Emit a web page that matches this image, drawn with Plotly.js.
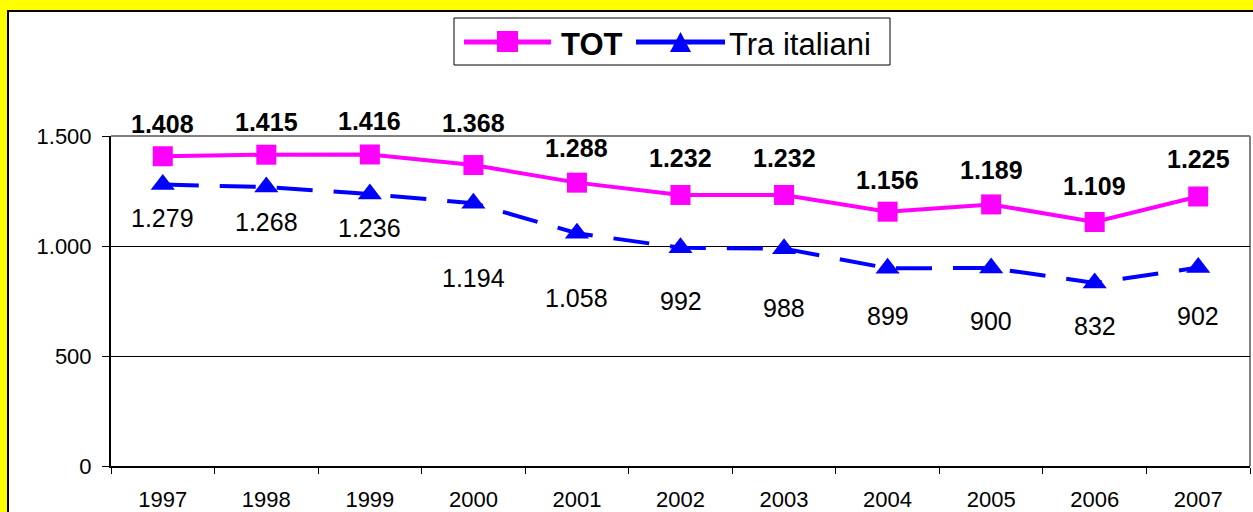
<!DOCTYPE html>
<html>
<head>
<meta charset="utf-8">
<script src="https://cdn.plot.ly/plotly-3.0.1.min.js"></script>
<style>
  html, body { margin: 0; padding: 0; background: #FFFF00; width: 1253px; height: 512px; overflow: hidden; }
  #chart { position: absolute; left: 7px; top: 10px; width: 1246px; height: 502px; background: #fff;
           border-left: 2px solid #000; border-top: 2px solid #000; box-sizing: border-box; }
</style>
</head>
<body>
<div id="chart"></div>
<script>
const years = ['1997','1998','1999','2000','2001','2002','2003','2004','2005','2006','2007'];
const totValues = [1408, 1415, 1416, 1368, 1288, 1232, 1232, 1156, 1189, 1109, 1225];
const traValues = [1279, 1268, 1236, 1194, 1058, 992, 988, 899, 900, 832, 902];
const totName = 'TOT';
const traName = 'Tra italiani';
const yTicks = [0, 500, 1000, 1500];

// label placement offsets (pixels), as in the reference
const totLabelShift = [32, 33, 33, 42, 35, 37, 37, 32, 34, 36, 38];
const traLabelShift = [-33, -35, -34, -75, -65, -53, -59, -48, -53, -43, -48];

function fmt(v) {
  return String(v).replace(/\B(?=(\d{3})+(?!\d))/g, '.');
}

const FONT = 'Liberation Sans, Arial, sans-serif';
const MAGENTA = '#FF00FF';
const BLUE = '#0000FF';

// plot geometry (div pixels)
const W = 1244, H = 500;
const M = { l: 102, r: 3, t: 124, b: 46 };
const PW = W - M.l - M.r, PH = H - M.t - M.b;
// convert page pixel position to paper coordinates (for the legend box)
const px = x => (x - 9 - M.l) / PW;
const py = y => 1 - ((y - 12) - M.t) / PH;

const traces = [
  {
    x: years, y: totValues, name: totName, type: 'scatter', mode: 'lines+markers',
    line: { color: MAGENTA, width: 4 },
    marker: { symbol: 'square', size: 20, color: MAGENTA },
    hoverinfo: 'skip', showlegend: false
  },
  {
    x: years, y: traValues, name: traName, type: 'scatter', mode: 'lines+markers',
    line: { color: BLUE, width: 4, dash: '36px,21px' },
    marker: { symbol: 'triangle-up', size: 21, color: BLUE },
    hoverinfo: 'skip', showlegend: false
  }
];

const annotations = [];
years.forEach((yr, i) => {
  annotations.push({
    x: i, y: totValues[i], xref: 'x', yref: 'y', text: '<b>' + fmt(totValues[i]) + '</b>',
    showarrow: false, yshift: totLabelShift[i], font: { family: FONT, size: 25, color: '#000' }
  });
  annotations.push({
    x: i, y: traValues[i], xref: 'x', yref: 'y', text: fmt(traValues[i]),
    showarrow: false, yshift: traLabelShift[i], font: { family: FONT, size: 25, color: '#000' }
  });
});

// legend (drawn manually to match the long swatches of the reference)
annotations.push({
  x: px(559), y: py(45), xref: 'paper', yref: 'paper', xanchor: 'left', yanchor: 'middle',
  text: '<b>' + totName + '</b>', showarrow: false, font: { family: FONT, size: 31, color: '#000' }
});
annotations.push({
  x: px(727), y: py(45), xref: 'paper', yref: 'paper', xanchor: 'left', yanchor: 'middle',
  text: traName, showarrow: false, font: { family: FONT, size: 31, color: '#000' }
});

const shapes = [
  { type: 'line', xref: 'paper', yref: 'paper', x0: 0, x1: 1, y0: 1, y1: 1, line: { color: '#808080', width: 2 }, layer: 'between' },
  { type: 'line', xref: 'paper', yref: 'paper', x0: 1, x1: 1, y0: 0, y1: 1, line: { color: '#808080', width: 2 }, layer: 'between' },
  // legend box
  { type: 'rect', xref: 'paper', yref: 'paper', x0: px(454), x1: px(890), y0: py(65), y1: py(18),
    line: { color: '#000', width: 1 }, fillcolor: '#fff', layer: 'above' },
  // TOT swatch
  { type: 'line', xref: 'paper', yref: 'paper', x0: px(464), x1: px(551), y0: py(42), y1: py(42),
    line: { color: MAGENTA, width: 5 }, layer: 'above' },
  { type: 'rect', xref: 'paper', yref: 'paper', x0: px(497), x1: px(518), y0: py(52), y1: py(31),
    line: { width: 0 }, fillcolor: MAGENTA, layer: 'above' },
  // Tra italiani swatch
  { type: 'line', xref: 'paper', yref: 'paper', x0: px(636), x1: px(725), y0: py(42), y1: py(42),
    line: { color: BLUE, width: 5 }, layer: 'above' },
  { type: 'path', xref: 'paper', yref: 'paper',
    path: 'M ' + px(670) + ' ' + py(52) + ' L ' + px(691) + ' ' + py(52) + ' L ' + px(680.5) + ' ' + py(32) + ' Z',
    line: { width: 0 }, fillcolor: BLUE, layer: 'above' }
];

const layout = {
  width: W, height: H,
  margin: { l: M.l, r: M.r, t: M.t, b: M.b, pad: 0 },
  paper_bgcolor: '#ffffff', plot_bgcolor: '#ffffff',
  separators: ',.',
  font: { family: FONT, size: 22, color: '#000' },
  showlegend: false,
  xaxis: {
    type: 'category', range: [-0.5, years.length - 0.5], autorange: false,
    showgrid: false, zeroline: false,
    showline: true, linecolor: '#000', linewidth: 2,
    ticks: 'outside', tickson: 'boundaries', ticklen: 6, tickcolor: '#000', tickwidth: 1,
    tickangle: 0,
    tickfont: { family: FONT, size: 22, color: '#000' }, ticklabelstandoff: 13,
    fixedrange: true
  },
  yaxis: {
    range: [0, 1500], autorange: false, tickvals: yTicks, ticktext: yTicks.map(fmt),
    showgrid: true, gridcolor: '#000', gridwidth: 1, zeroline: false,
    showline: true, linecolor: '#000', linewidth: 2,
    ticks: 'outside', ticklen: 7, tickcolor: '#000', tickwidth: 1,
    tickfont: { family: FONT, size: 22, color: '#000' }, ticklabelstandoff: 6,
    fixedrange: true
  },
  shapes: shapes,
  annotations: annotations
};

Plotly.newPlot('chart', traces, layout, { displayModeBar: false, staticPlot: true });
</script>
</body>
</html>
